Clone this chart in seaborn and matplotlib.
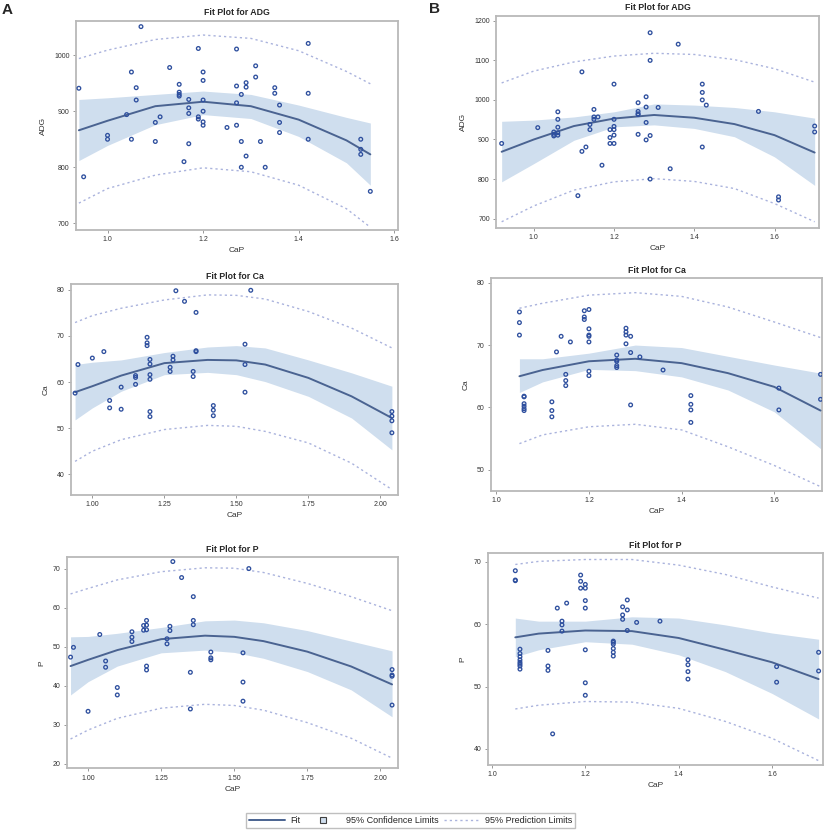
import numpy as np
import matplotlib.pyplot as plt
import seaborn as sns
from matplotlib.lines import Line2D

# ---- Data ----
# A, ADG
a_adg_x = [0.94, 0.95, 1.00, 1.00, 1.04, 1.05, 1.05, 1.06, 1.06, 1.07, 1.10, 1.10, 1.11, 1.13, 1.15,
           1.15, 1.15, 1.15, 1.17, 1.17, 1.17, 1.17, 1.16, 1.19, 1.19, 1.19, 1.20, 1.20, 1.20, 1.20,
           1.20, 1.20, 1.25, 1.27, 1.27, 1.27, 1.27, 1.28, 1.28, 1.28, 1.29, 1.29, 1.29, 1.31, 1.31,
           1.32, 1.33, 1.35, 1.35, 1.36, 1.36, 1.36, 1.42, 1.42, 1.42, 1.53, 1.53, 1.53, 1.55]
a_adg_y = [941, 783, 857, 850, 894, 970, 850, 942, 920, 1051, 880, 846, 890, 978, 948,
           934, 930, 927, 921, 906, 896, 842, 810, 1012, 890, 886, 970, 955, 920, 900,
           881, 875, 871, 1011, 945, 915, 875, 930, 846, 800, 951, 943, 820, 981, 961,
           846, 800, 942, 932, 911, 880, 862, 1021, 932, 850, 850, 832, 823, 757]
a_adg_gx = [0.94, 1.0, 1.1, 1.2, 1.3, 1.4, 1.5, 1.55]
a_adg_fit = [866, 883, 909, 917, 909, 885, 848, 823]
a_adg_clo = [812, 839, 876, 894, 887, 855, 808, 768]
a_adg_chi = [921, 924, 930, 936, 930, 911, 889, 879]
a_adg_plo = [736, 762, 786, 799, 792, 768, 726, 693]
a_adg_phi = [994, 1009, 1028, 1036, 1030, 1008, 971, 949]

# B, ADG
b_adg_x = [0.92, 1.01, 1.05, 1.05, 1.05, 1.06, 1.06, 1.06, 1.06, 1.06, 1.11, 1.12, 1.12, 1.13,
           1.14, 1.14, 1.15, 1.15, 1.15, 1.16, 1.17, 1.19, 1.19, 1.19, 1.20, 1.20, 1.20, 1.20,
           1.20, 1.20, 1.26, 1.26, 1.26, 1.26, 1.26, 1.28, 1.28, 1.28, 1.28, 1.29, 1.29, 1.29,
           1.29, 1.31, 1.34, 1.36, 1.42, 1.42, 1.42, 1.42, 1.43, 1.56, 1.61, 1.61, 1.70, 1.70]
b_adg_y = [890, 930, 919, 913, 909, 970, 951, 931, 917, 911, 758, 1071, 870, 881,
           938, 925, 976, 957, 951, 957, 835, 925, 905, 890, 1040, 951, 933, 925,
           911, 890, 993, 971, 965, 963, 913, 1008, 982, 943, 899, 1170, 1100, 910,
           800, 981, 826, 1141, 1040, 1019, 1000, 881, 987, 971, 755, 747, 934, 919]
b_adg_gx = [0.92, 1.0, 1.1, 1.2, 1.3, 1.4, 1.5, 1.6, 1.7]
b_adg_fit = [869, 900, 934, 953, 962, 955, 939, 911, 867]
b_adg_clo = [793, 839, 898, 932, 937, 928, 907, 856, 784]
b_adg_chi = [946, 949, 957, 970, 990, 987, 981, 970, 954]
b_adg_plo = [692, 732, 772, 793, 801, 794, 776, 738, 692]
b_adg_phi = [1043, 1073, 1096, 1111, 1118, 1115, 1102, 1079, 1045]

# A, Ca
a_ca_x = [0.94, 0.95, 1.00, 1.04, 1.06, 1.06, 1.10, 1.10, 1.15, 1.15, 1.15, 1.19, 1.19, 1.19,
          1.20, 1.20, 1.20, 1.20, 1.20, 1.20, 1.27, 1.27, 1.28, 1.28, 1.29, 1.32, 1.35, 1.35,
          1.36, 1.36, 1.36, 1.42, 1.42, 1.42, 1.53, 1.53, 1.53, 1.55, 2.04, 2.04, 2.04, 2.04]
a_ca_y = [57.6, 63.8, 65.2, 66.6, 56.0, 54.4, 58.9, 54.1, 61.4, 61.0, 59.5, 69.7, 68.5, 67.9,
          64.9, 63.9, 61.6, 60.6, 53.6, 52.5, 63.2, 62.3, 65.6, 64.8, 79.8, 77.5, 62.3, 61.2,
          75.1, 66.8, 66.6, 54.9, 53.9, 52.7, 68.2, 63.8, 57.8, 79.9, 53.6, 52.6, 51.6, 49.0]
a_ca_gx = [0.94, 1.0, 1.1, 1.25, 1.4, 1.5, 1.6, 1.75, 1.9, 2.04]
a_ca_fit = [57.8, 59.1, 61.4, 64.1, 64.8, 64.7, 63.8, 60.9, 56.9, 52.2]
a_ca_clo = [51.8, 54.4, 58.0, 61.6, 62.1, 61.6, 60.1, 56.9, 52.2, 45.3]
a_ca_chi = [63.8, 64.3, 64.8, 66.4, 67.6, 67.9, 67.4, 64.8, 62.0, 59.1]
a_ca_plo = [42.8, 45.0, 47.5, 49.7, 50.6, 50.4, 49.3, 46.8, 42.4, 36.7]
a_ca_phi = [72.9, 74.4, 76.0, 77.8, 78.9, 78.8, 78.0, 75.3, 71.7, 67.4]

# B, Ca
b_ca_x = [1.05, 1.05, 1.05, 1.06, 1.06, 1.06, 1.06, 1.06, 1.06, 1.12, 1.12, 1.12, 1.13, 1.14,
          1.15, 1.15, 1.15, 1.16, 1.19, 1.19, 1.19, 1.20, 1.20, 1.20, 1.20, 1.20, 1.20, 1.20,
          1.26, 1.26, 1.26, 1.26, 1.26, 1.28, 1.28, 1.28, 1.28, 1.29, 1.29, 1.29, 1.31, 1.36,
          1.42, 1.42, 1.42, 1.42, 1.61, 1.61, 1.70, 1.70]
b_ca_y = [75.3, 73.6, 71.6, 61.8, 61.7, 60.6, 60.2, 59.8, 59.5, 60.9, 59.5, 58.5, 68.9, 71.4,
          65.3, 64.3, 63.5, 70.5, 75.5, 74.5, 74.1, 75.7, 72.6, 71.6, 71.4, 70.5, 65.8, 65.1,
          68.4, 67.6, 67.4, 66.7, 66.4, 72.7, 72.1, 71.6, 70.2, 71.4, 68.8, 60.4, 68.1, 66.0,
          61.9, 60.5, 59.6, 57.6, 63.1, 59.6, 65.3, 61.3]
b_ca_gx = [1.05, 1.1, 1.2, 1.3, 1.4, 1.5, 1.6, 1.7]
b_ca_fit = [65.0, 66.0, 67.4, 67.8, 67.1, 65.5, 63.3, 59.5]
b_ca_clo = [62.4, 64.1, 66.1, 65.9, 64.9, 62.8, 59.3, 53.4]
b_ca_chi = [67.8, 67.8, 68.7, 70.0, 69.6, 68.2, 66.8, 65.5]
b_ca_plo = [54.2, 55.6, 56.9, 57.3, 56.4, 53.7, 50.7, 47.3]
b_ca_phi = [75.9, 76.7, 78.0, 78.4, 77.8, 76.1, 73.7, 71.2]

# A, P
a_p_x = [0.94, 0.95, 1.00, 1.04, 1.06, 1.06, 1.10, 1.10, 1.15, 1.15, 1.15, 1.19, 1.19, 1.20,
         1.20, 1.20, 1.20, 1.20, 1.27, 1.27, 1.28, 1.28, 1.29, 1.32, 1.35, 1.35, 1.36, 1.36,
         1.36, 1.42, 1.42, 1.42, 1.53, 1.53, 1.53, 1.55, 2.04, 2.04, 2.04, 2.04]
a_p_y = [47.4, 49.9, 33.5, 53.2, 46.4, 44.8, 39.6, 37.7, 53.9, 52.5, 51.4, 55.5, 54.3, 56.8,
         55.6, 54.4, 45.1, 44.1, 52.1, 50.8, 55.3, 54.2, 71.9, 67.8, 43.5, 34.1, 62.9, 56.8,
         55.7, 48.7, 47.2, 46.7, 48.5, 41.0, 36.1, 70.1, 44.2, 42.8, 42.5, 35.1]
a_p_gx = [0.94, 1.0, 1.1, 1.25, 1.4, 1.5, 1.6, 1.75, 1.9, 2.04]
a_p_fit = [45.1, 46.7, 49.2, 52.0, 52.9, 52.6, 51.5, 48.8, 45.0, 40.4]
a_p_clo = [37.7, 41.1, 45.1, 48.5, 49.2, 48.6, 47.1, 43.7, 39.0, 32.1]
a_p_chi = [52.6, 52.7, 53.5, 55.0, 56.7, 56.9, 56.2, 54.2, 51.5, 49.0]
a_p_plo = [26.4, 28.7, 31.7, 34.3, 35.3, 35.0, 33.8, 30.6, 26.6, 21.5]
a_p_phi = [63.6, 65.0, 67.2, 69.3, 70.3, 70.2, 69.1, 66.3, 62.9, 59.3]

# B, P
b_p_x = [1.05, 1.05, 1.05, 1.06, 1.06, 1.06, 1.06, 1.06, 1.06, 1.06, 1.06, 1.12, 1.12, 1.12,
         1.13, 1.14, 1.15, 1.15, 1.15, 1.16, 1.19, 1.19, 1.19, 1.20, 1.20, 1.20, 1.20, 1.20,
         1.20, 1.20, 1.26, 1.26, 1.26, 1.26, 1.26, 1.26, 1.28, 1.28, 1.28, 1.29, 1.29, 1.29,
         1.31, 1.36, 1.42, 1.42, 1.42, 1.42, 1.61, 1.61, 1.70, 1.70]
b_p_y = [68.6, 67.1, 67.0, 56.0, 55.3, 54.8, 54.3, 53.9, 53.6, 53.3, 52.8, 55.8, 53.3, 52.6,
         42.4, 62.6, 60.5, 59.9, 58.9, 63.4, 67.9, 66.9, 65.8, 66.4, 65.8, 63.8, 62.6, 55.9,
         50.6, 48.6, 57.3, 57.1, 56.8, 56.1, 55.5, 54.9, 62.8, 61.5, 60.8, 63.9, 62.3, 59.0,
         60.3, 60.5, 54.3, 53.5, 52.4, 51.2, 53.2, 50.7, 55.5, 52.5]
b_p_gx = [1.05, 1.1, 1.2, 1.3, 1.4, 1.5, 1.6, 1.7]
b_p_fit = [57.9, 58.5, 59.0, 58.9, 57.8, 55.9, 53.9, 51.2]
b_p_clo = [54.8, 55.9, 57.2, 56.8, 55.1, 52.4, 48.9, 44.8]
b_p_chi = [61.0, 60.5, 60.5, 61.2, 61.0, 59.9, 58.6, 57.6]
b_p_plo = [46.4, 47.0, 47.6, 47.5, 46.5, 44.4, 41.7, 38.1]
b_p_phi = [69.6, 70.1, 70.4, 70.4, 69.5, 68.0, 66.0, 64.2]

x_ticks_a2 = [1.0, 1.25, 1.5, 1.75, 2.0]
x_ticks_b = [1.0, 1.2, 1.4, 1.6]

# colours
pt_col = '#2e4f9e'
fit_col = '#4a6391'
band_col = '#cfdeee'
pi_col = '#aab3dd'
frame_col = '#b9b9b9'

sns.set_style("ticks")
plt.rcParams['font.family'] = ['Liberation Sans', 'DejaVu Sans']

fig = plt.figure(figsize=(8.27, 8.31), dpi=100)

panels = [
    # rect, title, ylabel, data, xticks, xlim, yticks, ylim, decimals
    ([0.0919, 0.7232, 0.3894, 0.2515], 'Fit Plot for ADG', 'ADG',
     (a_adg_x, a_adg_y, a_adg_gx, a_adg_fit, a_adg_clo, a_adg_chi, a_adg_plo, a_adg_phi),
     x_ticks_b, (0.934, 1.608), [700, 800, 900, 1000], (688, 1061), 1),
    ([0.5998, 0.7260, 0.3906, 0.2551], 'Fit Plot for ADG', 'ADG',
     (b_adg_x, b_adg_y, b_adg_gx, b_adg_fit, b_adg_clo, b_adg_chi, b_adg_plo, b_adg_phi),
     x_ticks_b, (0.906, 1.711), [700, 800, 900, 1000, 1100, 1200], (677, 1213), 1),
    ([0.0859, 0.4043, 0.3958, 0.2536], 'Fit Plot for Ca', 'Ca',
     (a_ca_x, a_ca_y, a_ca_gx, a_ca_fit, a_ca_clo, a_ca_chi, a_ca_plo, a_ca_phi),
     x_ticks_a2, (0.926, 2.0625), [40, 50, 60, 70, 80], (35.5, 81.2), 2),
    ([0.5937, 0.4091, 0.4002, 0.2560], 'Fit Plot for Ca', 'Ca',
     (b_ca_x, b_ca_y, b_ca_gx, b_ca_fit, b_ca_clo, b_ca_chi, b_ca_plo, b_ca_phi),
     x_ticks_b, (0.9886, 1.703), [50, 60, 70, 80], (46.6, 80.7), 1),
    ([0.0807, 0.0755, 0.4010, 0.2539], 'Fit Plot for P', 'P',
     (a_p_x, a_p_y, a_p_gx, a_p_fit, a_p_clo, a_p_chi, a_p_plo, a_p_phi),
     x_ticks_a2, (0.927, 2.0616), [20, 30, 40, 50, 60, 70], (18.9, 73.0), 2),
    ([0.5897, 0.0794, 0.4058, 0.2548], 'Fit Plot for P', 'P',
     (b_p_x, b_p_y, b_p_gx, b_p_fit, b_p_clo, b_p_chi, b_p_plo, b_p_phi),
     x_ticks_b, (0.9908, 1.710), [40, 50, 60, 70], (37.4, 71.4), 1),
]

for rect, title, ylab, data, xt, xl, yt, yl, dec in panels:
    px, py, gx, fit, clo, chi, plo, phi = data
    ax = fig.add_axes(rect)
    ax.fill_between(gx, clo, chi, color=band_col, lw=0, zorder=1)
    # prediction limits
    sns.lineplot(x=gx, y=plo, ax=ax, color=pi_col, lw=1, linestyle=(0, (1.6, 2.2)), zorder=2)
    sns.lineplot(x=gx, y=phi, ax=ax, color=pi_col, lw=1, linestyle=(0, (1.6, 2.2)), zorder=2)
    # fit
    sns.lineplot(x=gx, y=fit, ax=ax, color=fit_col, lw=1.4, zorder=3)
    sns.scatterplot(x=px, y=py, ax=ax, marker='o', s=7, facecolor='none',
                    edgecolor=pt_col, linewidth=0.95, zorder=4)
    ax.set_xlim(xl)
    ax.set_ylim(yl)
    ax.set_xticks(xt)
    ax.set_xticklabels([f'{t:.{dec}f}' for t in xt])
    ax.set_yticks(yt)
    ax.set_yticklabels([str(t) for t in yt])
    ax.set_title(title, fontsize=6.3, fontweight='bold', pad=4)
    ax.set_xlabel('CaP', fontsize=6, color='#333333', labelpad=3)
    ax.set_ylabel(ylab, fontsize=6, color='#333333', labelpad=5)
    ax.tick_params(direction='out', length=2.5, width=0.6, color='#888888',
                   labelsize=5, pad=2, labelcolor='#333333')
    for sp in ax.spines.values():
        sp.set_visible(True)
        sp.set_color(frame_col)
        sp.set_linewidth(1.3)

fig.text(0.002, 0.996, 'A', fontsize=11, fontweight='bold', va='top')
fig.text(0.519, 0.997, 'B', fontsize=11, fontweight='bold', va='top')

handles = [
    Line2D([], [], color=fit_col, lw=1.4),
    Line2D([], [], marker='s', ls='none', markersize=5, markerfacecolor=band_col,
           markeredgecolor='#404040', markeredgewidth=0.8),
    Line2D([], [], color=pi_col, lw=1, linestyle=(0, (1.6, 2.2))),
]
labels = ['Fit', '95% Confidence Limits', '95% Prediction Limits']
fig.legend(handles, labels, loc='center', bbox_to_anchor=(0.4964, 0.0127), ncol=3,
           fontsize=6.5, frameon=True, fancybox=False, edgecolor='#b0b0b0',
           handlelength=4, handletextpad=0.5, columnspacing=0.6, borderpad=0.35)

plt.savefig('out.png', dpi=100)
